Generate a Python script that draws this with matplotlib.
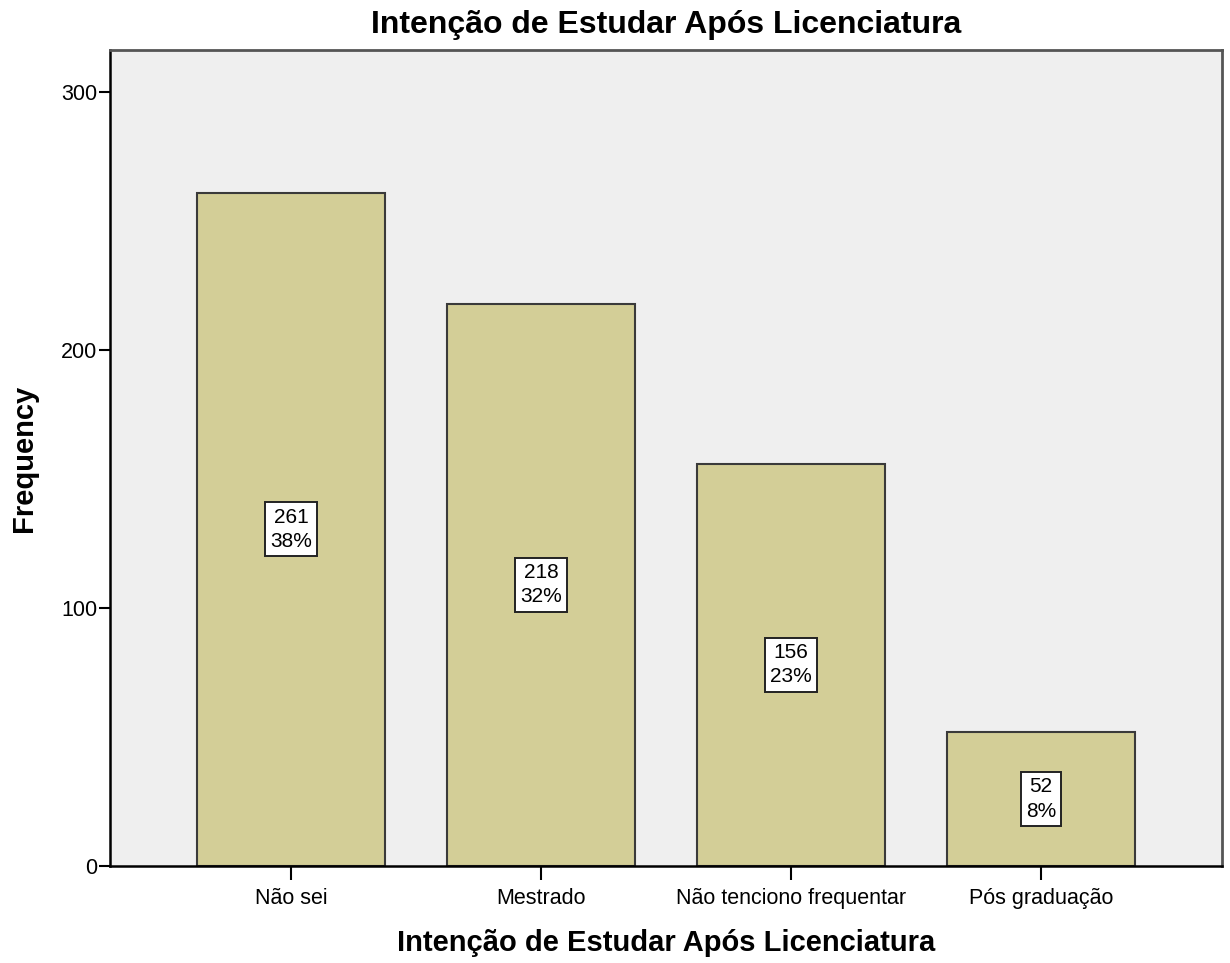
import matplotlib
matplotlib.use("Agg")
import matplotlib.pyplot as plt

categories = ["Não sei", "Mestrado", "Não tenciono frequentar", "Pós graduação"]
counts = [261, 218, 156, 52]
percents = ["38%", "32%", "23%", "8%"]

plt.rcParams['font.family'] = ['Liberation Sans', 'DejaVu Sans']

fig = plt.figure(figsize=(12.3, 9.63), dpi=100)
ax = fig.add_axes([110/1230, 97/963, 1112/1230, 816/963])
ax.set_facecolor('#efefef')

x = list(range(len(categories)))
bars = ax.bar(x, counts, width=0.752, color='#d3ce97', edgecolor='#3a3a3a', linewidth=1.5, zorder=2)

for xi, c, p in zip(x, counts, percents):
    ax.text(xi, c / 2, f"{c}\n{p}", ha='center', va='center', fontsize=15, linespacing=1.35,
            bbox=dict(boxstyle='square,pad=0.25', facecolor='white', edgecolor='#222222', linewidth=1.4),
            zorder=3)

ax.set_xlim(-0.724, 3.724)
ax.set_ylim(0, 316.3)
ax.set_yticks([0, 100, 200, 300])
ax.set_xticks(x)
ax.set_xticklabels(categories, fontsize=15.5)
ax.tick_params(axis='y', labelsize=15.5, length=8, width=1.5, direction='out', pad=1)
ax.tick_params(axis='x', length=10, width=1.5, direction='out', pad=6)

for side in ['left', 'bottom']:
    ax.spines[side].set_linewidth(1.8)
    ax.spines[side].set_color('black')
for side in ['top', 'right']:
    ax.spines[side].set_linewidth(2.0)
    ax.spines[side].set_color('#555555')

ax.set_title("Intenção de Estudar Após Licenciatura", fontsize=23, fontweight='bold', pad=12)
ax.set_xlabel("Intenção de Estudar Após Licenciatura", fontsize=21, fontweight='bold', labelpad=14)
ax.set_ylabel("Frequency", fontsize=21, fontweight='bold', labelpad=17)

fig.savefig("out.png", dpi=100)
